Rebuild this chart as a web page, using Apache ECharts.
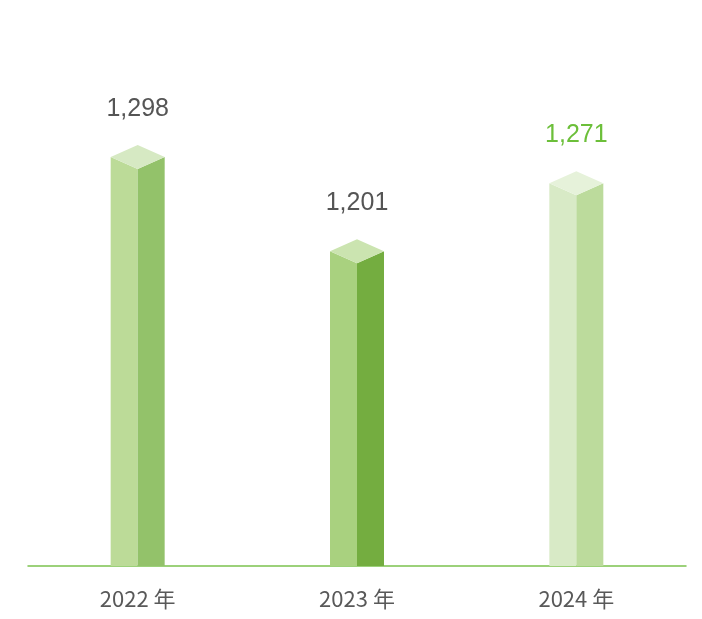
<!DOCTYPE html>
<html><head><meta charset="utf-8">
<script src="https://cdn.jsdelivr.net/npm/echarts@6/dist/echarts.min.js"></script>
<style>html,body{margin:0;padding:0;background:#fff}#c{width:702px;height:619px}</style>
</head><body><div id="c"></div>
<script>
const categories = ['2022 年', '2023 年', '2024 年'];
const values = [1298, 1201, 1271];
const valueLabels = ['1,298', '1,201', '1,271'];
const leftColors = ['#bcdb98', '#a9d17f', '#d8eac6'];
const rightColors = ['#93c26a', '#74ad40', '#bcdb9c'];
const topColors = ['#d6e9c3', '#cbe4b0', '#e6f2da'];
const labelColors = ['#555555', '#555555', '#6cbf3a'];
const yMin = 878;

const chart = echarts.init(document.getElementById('c'));
chart.setOption({
  animation: false,
  grid: {left: 28, right: 16, top: 40, bottom: 53},
  xAxis: {type: 'category', data: categories,
    axisLine: {lineStyle: {color: '#7cc24f', width: 1.5}},
    axisTick: {show: false},
    axisLabel: {color: '#595959', fontSize: 22, margin: 22, fontFamily: 'Noto Sans CJK SC'}},
  yAxis: {type: 'value', min: yMin, max: 1418, show: false, splitLine: {show: false}},
  series: [{
    type: 'custom',
    encode: {x: 0, y: 1},
    data: values.map((v, i) => [i, v]),
    renderItem: function (params, api) {
      const i = params.dataIndex;
      const p = api.coord([api.value(0), api.value(1)]);
      const b = api.coord([api.value(0), yMin]);
      const x = p[0], y = p[1], base = b[1], w = 27, d = 12;
      return {type: 'group', children: [
        {type: 'polygon', shape: {points: [[x-w,y],[x,y+d],[x,base],[x-w,base]]}, style: {fill: leftColors[i]}},
        {type: 'polygon', shape: {points: [[x,y+d],[x+w,y],[x+w,base],[x,base]]}, style: {fill: rightColors[i]}},
        {type: 'polygon', shape: {points: [[x-w,y],[x,y-d],[x+w,y],[x,y+d]]}, style: {fill: topColors[i]}},
        {type: 'text', x: x, y: y - 48, style: {text: valueLabels[i], fill: labelColors[i], fontSize: 25,
          fontFamily: 'Liberation Sans', align: 'center', verticalAlign: 'middle'}}
      ]};
    }
  }]
});
</script></body></html>
